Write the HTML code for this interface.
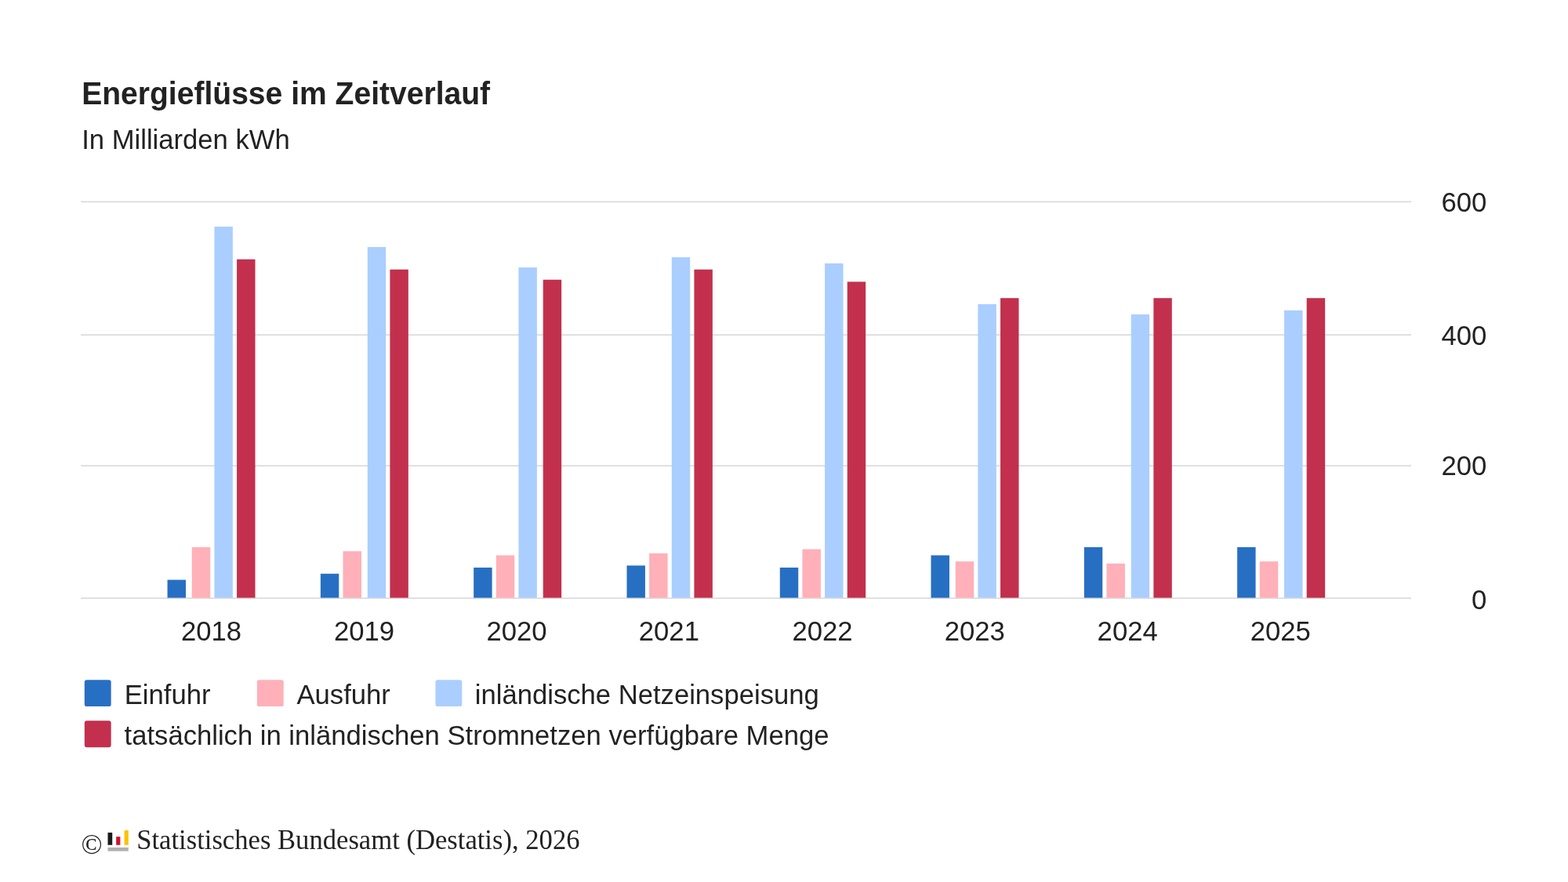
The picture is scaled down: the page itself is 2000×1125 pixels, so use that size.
<!DOCTYPE html>
<html lang="de">
<head>
<meta charset="utf-8">
<title>Energieflüsse im Zeitverlauf</title>
<style>
html,body{margin:0;padding:0;background:#fff;}
html,body{width:2000px;height:1125px;}
svg{display:block;}
text{font-family:"Liberation Sans",Arial,Helvetica,sans-serif;fill:#222222;}
.title{font-size:15px;font-weight:bold;}
.n{font-size:13.3px;}
.ft{font-family:"Liberation Serif","Times New Roman",Times,serif;}
</style>
</head>
<body>
<svg width="2000" height="1125" viewBox="0 0 768 432" role="img" aria-label="Energieflüsse im Zeitverlauf">
<rect x="0" y="0" width="768" height="432" fill="#ffffff"/>
<text class="title" transform="translate(40 50.95) scale(1 1.025)">Energieflüsse im Zeitverlauf</text>
<text class="n" x="40" y="73.1">In Milliarden kWh</text>
<g fill="#d8d8d8">
<rect x="39.6" y="98.522" width="651.6" height="0.6"/>
<rect x="39.6" y="163.726" width="651.6" height="0.6"/>
<rect x="39.6" y="227.834" width="651.6" height="0.6"/>
<rect x="39.6" y="292.692" width="651.6" height="0.6"/>
</g>
<g>
<rect x="82" y="284" width="9" height="8.8" fill="#276fc3"/>
<rect x="94" y="268" width="9" height="24.8" fill="#ffb0b8"/>
<rect x="105" y="111" width="9" height="181.8" fill="#aaceff"/>
<rect x="116" y="127" width="9" height="165.8" fill="#c2304d"/>
</g>
<g>
<rect x="157" y="281" width="9" height="11.8" fill="#276fc3"/>
<rect x="168" y="270" width="9" height="22.8" fill="#ffb0b8"/>
<rect x="180" y="121" width="9" height="171.8" fill="#aaceff"/>
<rect x="191" y="132" width="9" height="160.8" fill="#c2304d"/>
</g>
<g>
<rect x="232" y="278" width="9" height="14.8" fill="#276fc3"/>
<rect x="243" y="272" width="9" height="20.8" fill="#ffb0b8"/>
<rect x="254" y="131" width="9" height="161.8" fill="#aaceff"/>
<rect x="266" y="137" width="9" height="155.8" fill="#c2304d"/>
</g>
<g>
<rect x="307" y="277" width="9" height="15.8" fill="#276fc3"/>
<rect x="318" y="271" width="9" height="21.8" fill="#ffb0b8"/>
<rect x="329" y="126" width="9" height="166.8" fill="#aaceff"/>
<rect x="340" y="132" width="9" height="160.8" fill="#c2304d"/>
</g>
<g>
<rect x="382" y="278" width="9" height="14.8" fill="#276fc3"/>
<rect x="393" y="269" width="9" height="23.8" fill="#ffb0b8"/>
<rect x="404" y="129" width="9" height="163.8" fill="#aaceff"/>
<rect x="415" y="138" width="9" height="154.8" fill="#c2304d"/>
</g>
<g>
<rect x="456" y="272" width="9" height="20.8" fill="#276fc3"/>
<rect x="468" y="275" width="9" height="17.8" fill="#ffb0b8"/>
<rect x="479" y="149" width="9" height="143.8" fill="#aaceff"/>
<rect x="490" y="146" width="9" height="146.8" fill="#c2304d"/>
</g>
<g>
<rect x="531" y="268" width="9" height="24.8" fill="#276fc3"/>
<rect x="542" y="276" width="9" height="16.8" fill="#ffb0b8"/>
<rect x="554" y="154" width="9" height="138.8" fill="#aaceff"/>
<rect x="565" y="146" width="9" height="146.8" fill="#c2304d"/>
</g>
<g>
<rect x="606" y="268" width="9" height="24.8" fill="#276fc3"/>
<rect x="617" y="275" width="9" height="17.8" fill="#ffb0b8"/>
<rect x="629" y="152" width="9" height="140.8" fill="#aaceff"/>
<rect x="640" y="146" width="9" height="146.8" fill="#c2304d"/>
</g>
<g class="n" text-anchor="end">
<text x="728.15" y="103.672">600</text>
<text x="728.15" y="168.826">400</text>
<text x="728.15" y="232.554">200</text>
<text x="728.15" y="298.192">0</text>
</g>
<g class="n" text-anchor="middle">
<text x="103.5" y="313.7">2018</text>
<text x="178.4" y="313.7">2019</text>
<text x="253.05" y="313.7">2020</text>
<text x="327.7" y="313.7">2021</text>
<text x="402.8" y="313.7">2022</text>
<text x="477.45" y="313.7">2023</text>
<text x="552.25" y="313.7">2024</text>
<text x="627.15" y="313.7">2025</text>
</g>
<g class="n">
<rect x="41.4" y="333" width="13" height="13" rx="1.1" fill="#276fc3"/>
<text x="60.95" y="344.9">Einfuhr</text>
<rect x="125.9" y="333" width="13" height="13" rx="1.1" fill="#ffb0b8"/>
<text x="145.35" y="344.9">Ausfuhr</text>
<rect x="213.3" y="333" width="13" height="13" rx="1.1" fill="#aaceff"/>
<text x="232.65" y="344.9">inländische Netzeinspeisung</text>
<rect x="41.4" y="353" width="13" height="13" rx="1.1" fill="#c2304d"/>
<text x="60.9" y="364.8">tatsächlich in inländischen Stromnetzen verfügbare Menge</text>
</g>
<text class="ft" x="39.75" y="418.1" font-size="13.7">©</text>
<g transform="translate(52.8 406.5)">
<rect x="0" y="1.3" width="2.2" height="6.08" fill="#1a1a1a"/>
<rect x="4.1" y="3.3" width="2" height="4.08" fill="#d0112b"/>
<rect x="8.1" y="0.2" width="2" height="7.18" fill="#fcc200"/>
<rect x="0" y="8.6" width="10.1" height="1.8" fill="#b0b0b0"/>
</g>
<text class="ft" transform="translate(66.9 415.7) scale(1 1.04)" font-size="13.295">Statistisches Bundesamt (Destatis), 2026</text>
</svg>
</body>
</html>
